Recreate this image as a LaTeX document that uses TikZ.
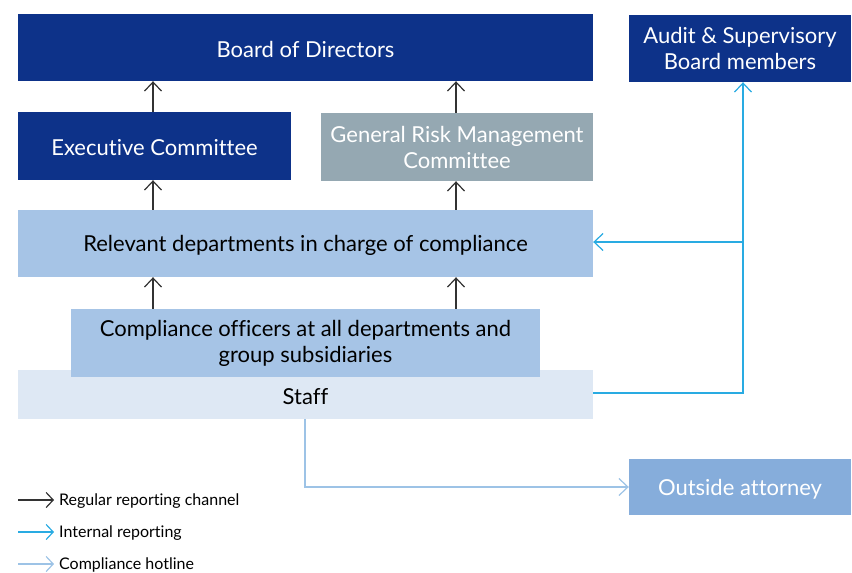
\documentclass[tikz,border=0pt]{standalone}
\usepackage{fontspec}
\setmainfont[Ligatures={NoCommon}]{Lato}
\usepackage{xcolor}
\usetikzlibrary{
	arrows.meta,
	positioning,
	calc
}
\definecolor{boardblue}{HTML}{0D3289}
\definecolor{riskgrey}{HTML}{95A8B2}
\definecolor{deptblue}{HTML}{A6C4E6}
\definecolor{staffblue}{HTML}{DEE8F4}
\definecolor{lawyerblue}{HTML}{86ADDB}
\definecolor{internalcyan}{HTML}{29ABE2}
\definecolor{hotlineblue}{HTML}{9DC3E6}
\definecolor{regulargrey}{HTML}{333333}

\begin{document}
\begin{tikzpicture}[
			x=1pt, y=-1pt,
			box/.style={
				rectangle, inner sep=0pt, anchor=center,
				align=center, font=\fontsize{22}{26}\selectfont
			},
			board/.style={box, fill=boardblue, text=white},
			committee/.style={box, fill=riskgrey, text=white},
			dept/.style={box, fill=deptblue, text=black},
			staffbox/.style={box, fill=staffblue, text=black},
			outside/.style={box, fill=lawyerblue, text=white},
			legend/.style={anchor=west, inner sep=0pt, font=\fontsize{16}{18}\selectfont},
			arrow/.style={-{Straight Barb[length=9pt,width=17pt,line width=1.2pt]}, line width=1.2pt, regulargrey},
			internalarrow/.style={-{Straight Barb[length=9pt,width=17pt,line width=1.2pt]}, line width=1.6pt, internalcyan},
			hotlinearrow/.style={-{Straight Barb[length=9pt,width=17pt,line width=1.2pt]}, line width=1.6pt, hotlineblue}
			]
			\useasboundingbox (0,0) rectangle (852,573);
			
			% ---------------- top row ----------------
			\node[board, minimum width=575pt, minimum height=67pt] (board) at (305.5,47.5) {};
			\node[box, text=white] (boardtext) at (305.5,49.5) {Board of Directors};
			\node[board, minimum width=222pt, minimum height=67pt] (audit) at (740,48.5) {Audit \& Supervisory\\Board members};
			
			% ---------------- committees ----------------
			\node[board, minimum width=273pt, minimum height=68pt] (exec) at (154.5,146) {};
			\node[box, text=white] (exectext) at (154.5,148) {Executive Committee};
			\node[committee, minimum width=272pt, minimum height=68pt] (risk) at (457,147) {General Risk Management\\Committee};
			
			% ---------------- departments ----------------
			\node[dept, minimum width=575pt, minimum height=67pt] (relevant) at (305.5,243.5) {};
			\node[box, text=black] (relevanttext) at (305.5,245.5) {Relevant departments in charge of compliance};
			
			% ---------------- staff and officers ----------------
			\node[staffbox, minimum width=575pt, minimum height=49pt] (staff) at (305.5,394.5) {};
			\node[box, text=black] (stafftext) at (305.5,397) {Staff};
			\node[dept, minimum width=469pt, minimum height=68pt] (officers) at (305.5,343) {Compliance officers at all departments and\\group subsidiaries};
			
			% ---------------- outside ----------------
			\node[outside, minimum width=222pt, minimum height=56pt] (attorney) at (740,487) {};
			\node[box, text=white] (attorneytext) at (740,489) {Outside attorney};
			
			% regular reporting
			\draw[arrow] (exec.north -| 153,0) -- (board.south -| 153,0);
			\draw[arrow] (risk.north -| 456,0) -- (board.south -| 456,0);
			\draw[arrow] (relevant.north -| 153,0) -- (exec.south -| 153,0);
			\draw[arrow] (relevant.north -| 456,0) -- (risk.south -| 456,0);
			\draw[arrow] (officers.north -| 153,0) -- (relevant.south -| 153,0);
			\draw[arrow] (officers.north -| 456,0) -- (relevant.south -| 456,0);
			
			% internal reporting
			\coordinate (corner) at (743,393);
			\coordinate (branch) at (743,242);
			\draw[internalarrow] (staff.east |- corner) -- (corner) -- (audit.south -| corner);
			\draw[internalarrow] (branch) -- (relevant.east |- branch);
			
			% compliance hotline
			\coordinate (drop) at (305,487);
			\draw[hotlinearrow] (staff.south -| drop) -- (drop) -- (attorney.west);
			
			% ---------------- legend ----------------
			\coordinate (l1) at (18,500);
			\coordinate (l2) at (18,532);
			\coordinate (l3) at (18,564);
			\node[legend] (t1) at (59,501) {Regular reporting channel};
			\node[legend] (t2) at (59,533) {Internal reporting};
			\node[legend] (t3) at (59,565) {Compliance hotline};
			\draw[arrow, shorten >=5pt, -{Straight Barb[length=7pt,width=15pt,line width=1.2pt]}] (l1) -- (t1.west |- l1);
			\draw[arrow, shorten >=5pt, internalcyan, -{Straight Barb[length=7pt,width=15pt,line width=1.2pt]}] (l2) -- (t2.west |- l2);
			\draw[arrow, shorten >=5pt, hotlineblue, -{Straight Barb[length=7pt,width=15pt,line width=1.2pt]}] (l3) -- (t3.west |- l3);
		\end{tikzpicture}
\end{document}
